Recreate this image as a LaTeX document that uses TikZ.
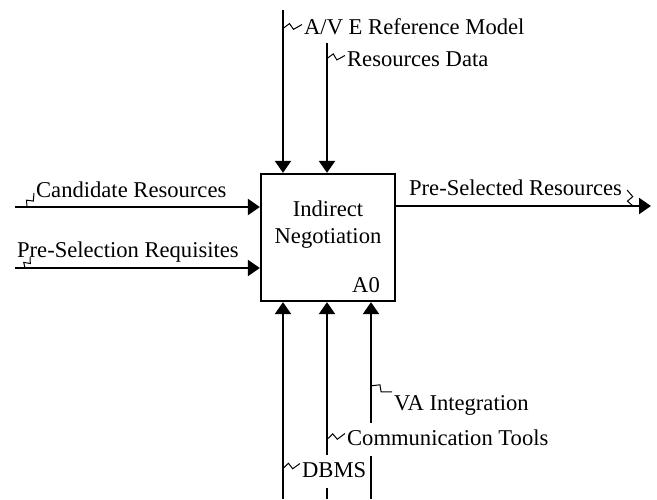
\documentclass[tikz,border=0pt]{standalone}
\usepackage{fontspec}
\setmainfont{Liberation Serif}
\usetikzlibrary{arrows.meta,calc,positioning}

\begin{document}
\begin{tikzpicture}[x=1pt, y=-1pt, line width=2.3pt, on grid,
	every node/.style={font=\fontsize{22.6}{27}\selectfont, text height=16pt, text depth=5pt, inner sep=1pt},
	flow/.style={-{Triangle[length=12pt, width=16pt]}},
	lbl/.style={anchor=base west, fill=white},
	cutlbl/.style={lbl, inner ysep=6pt},
	squig/.style={line width=1pt, to path={-- ($(\tikztostart)!0.38!(\tikztotarget)!3.5pt!90:(\tikztotarget)$) -- ($(\tikztostart)!0.52!(\tikztotarget)!3pt!-90:(\tikztotarget)$) -- (\tikztotarget)}}]

	\useasboundingbox (0,0) rectangle (657,499);

	% activity box
	\node[draw, minimum width=134pt, minimum height=127pt] (act) at (328,237.5) {};
	\node (ind) at (328,210.5) {Indirect};
	\node (neg) [below=27pt of ind] {Negotiation};
	\node[anchor=base east] (nodeid) at (382,292) {A0};

	% free ends of the arrows
	\coordinate (ctl1) at (283,10);
	\coordinate (ctl2) at (327,43);
	\coordinate (in1) at (15,207);
	\coordinate (in2) at (15,268);
	\coordinate (out1) at (651,206);
	\coordinate (mech1) at (283,499);
	\coordinate (mech2) at (327,499);
	\coordinate (mech3) at (371,499);

	\draw[flow] (ctl1) -- (ctl1 |- act.north);
	\draw[flow] (ctl2) -- (ctl2 |- act.north);
	\draw[flow] (in1) -- (in1 -| act.west);
	\draw[flow] (in2) -- (in2 -| act.west);
	\draw[flow] (act.east |- out1) -- (out1);
	\draw[flow] (mech1) -- (mech1 |- act.south);
	\draw[flow] (mech2) -- (mech2 |- act.south);
	\draw[flow] (mech3) -- (mech3 |- act.south);

	% arrow labels
	\node[lbl] (avref) at (302,34) {A/V E Reference Model};
	\node[lbl] (resdata) at (345,66) {Resources Data};
	\node[lbl] (candres) at (34,197) {Candidate Resources};
	\node[lbl] (preselreq) at (15,257) {Pre-Selection Requisites};
	\node[lbl] (preselres) at (407,195) {Pre-Selected Resources};
	\node[lbl] (vaint) at (392,410) {VA Integration};
	\node[cutlbl] (commtools) at (345,445) {Communication Tools};
	\node[cutlbl] (dbms) at (300,477) {DBMS};

	\draw[squig] (ctl1 |- avref.west) to ([yshift=4pt]avref.west);
	\draw[squig] ([yshift=2pt]ctl2 |- resdata.west) to ([yshift=5pt]resdata.west);
	\draw[squig] ([xshift=12pt]in1) to ([yshift=4pt]candres.base west);
	\draw[squig] ([xshift=10pt]in2) to ([xshift=15pt]preselreq.base west);
	\draw[squig] ([xshift=-18pt]out1) to ([xshift=3pt,yshift=5pt]preselres.base east);
	\draw[squig] ([yshift=6pt]mech3 |- vaint.north west) to (vaint.north west);
	\draw[squig] (mech2 |- commtools.west) to ([yshift=6pt]commtools.west);
	\draw[squig] ([yshift=3pt]mech1 |- dbms.west) to ([yshift=8pt]dbms.west);
\end{tikzpicture}
\end{document}
